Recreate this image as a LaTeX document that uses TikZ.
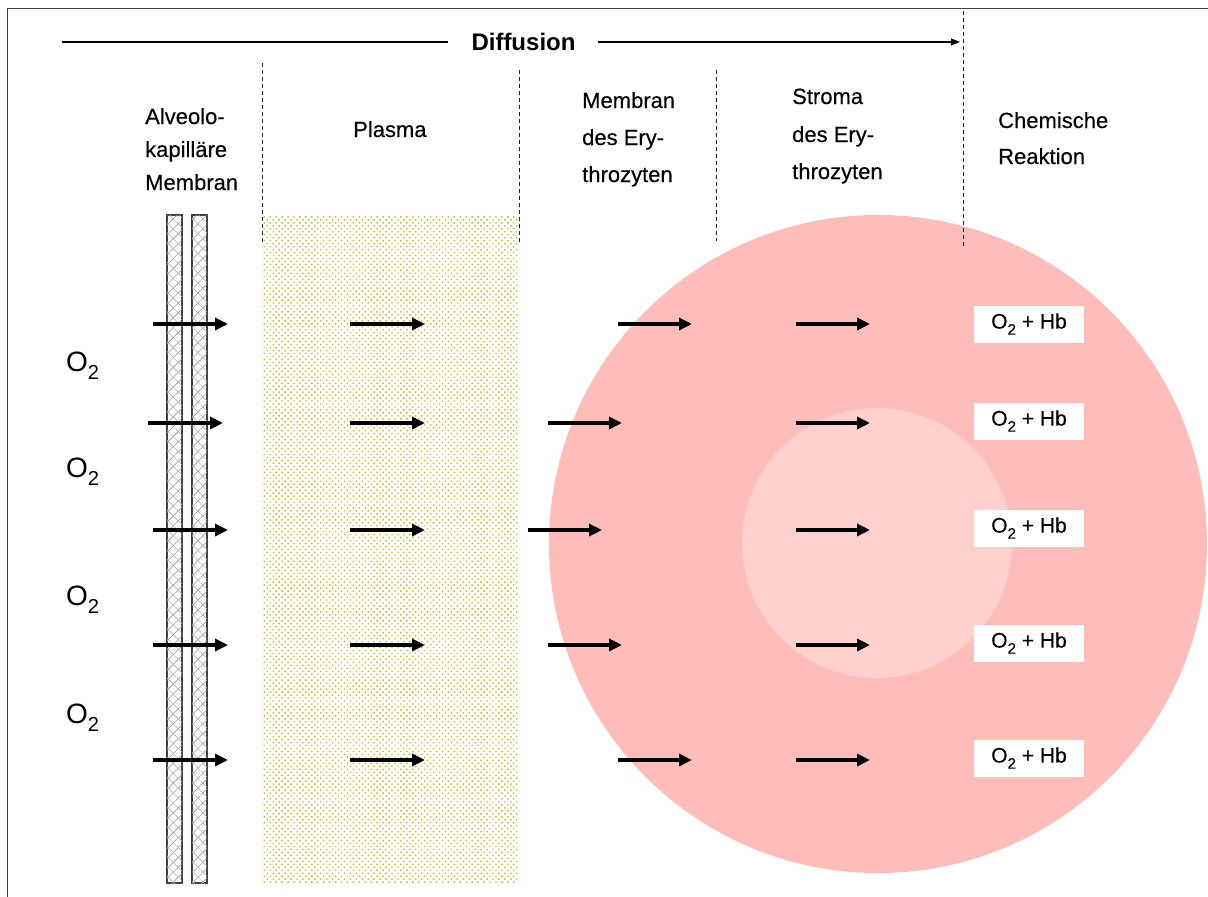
\documentclass[tikz,border=0pt]{standalone}
\usepackage{fontspec}
\usepackage{graphicx}
\setmainfont{Liberation Sans}
\newfontfamily\lblfont[FakeBold=0.25]{Liberation Sans}
\usetikzlibrary{arrows.meta,patterns.meta}
\definecolor{rbc}{HTML}{FFBDBA}
\definecolor{rbcin}{HTML}{FFD0CD}
\definecolor{framecol}{HTML}{404040}
\definecolor{dotcol}{HTML}{C8BE20}
\newcommand\lowsub[1]{\raisebox{-0.29em}{\scalebox{0.72}{#1}}}
\tikzset{
  lbl/.style={anchor=base west,inner sep=0,font=\fontsize{22}{26}\lblfont},
  fatarrow/.style={line width=3.8pt,-{Triangle[length=13pt,width=12pt]}},
  dashline/.style={dash pattern=on 4pt off 3pt,line width=0.9pt,black!85},
  hbbox/.style={fill=white,minimum width=110pt,minimum height=37pt,inner sep=0,font=\fontsize{21}{24}\lblfont},
  oxy/.style={anchor=base west,inner sep=0,font=\fontsize{28}{32}\selectfont},
  membar/.style={draw=framecol,line width=1.2pt,fill=white,minimum width=15pt,minimum height=668pt,inner sep=0,
    postaction={pattern={Lines[angle=45,distance=7pt,line width=0.6pt]},pattern color=gray!80},
    postaction={pattern={Lines[angle=-45,distance=7pt,line width=0.6pt]},pattern color=gray!60}},
}
\begin{document}
\begin{tikzpicture}[x=1pt,y=-1pt]
\useasboundingbox (0,0) rectangle (1208,897);
\fill[white] (0,0) rectangle (1208,897);
% frame
\draw[framecol,line width=1.5pt] (7.5,897) -- (7.5,8.5) -- (1208,8.5);

% red blood cell
\node[circle,fill=rbc,minimum size=658pt,inner sep=0] (rbc) at (878,544) {};
\node[circle,fill=rbcin,minimum size=270pt,inner sep=0] (core) at (877,543) {};

% plasma
\node[minimum width=257pt,minimum height=668pt,inner sep=0,
  pattern={Dots[angle=45,distance=4.2pt,radius=1pt]},pattern color=dotcol] (plasma) at (390.5,549) {};

% membrane bars
\node[membar] (bar1) at (174.5,549) {};
\node[membar] (bar2) at (199.5,549) {};

% dashed separators
\draw[dashline] (262,63) -- (262,243);
\draw[dashline] (519,70) -- (519,243);
\draw[dashline] (716,70) -- (716,241);
\draw[dashline] (963,11) -- (963,249);

% Diffusion header
\node[anchor=base,inner sep=0,font=\fontsize{24}{28}\selectfont\bfseries] (diff) at (523.5,50) {Diffusion};
\coordinate (dl) at (62,42);
\coordinate (dr) at (960,42);
\draw[line width=1.1pt] (dl) -- (448,42);
\draw[line width=1.1pt,-{Triangle[length=9pt,width=7pt]}] (598,42) -- (dr);

% column labels
\node[lbl] (t1a) at (145,124) {Alveolo-};
\node[lbl] (t1b) at (145,157) {kapilläre};
\node[lbl] (t1c) at (145,190) {Membran};
\node[lbl] (t2) at (353,137) {Plasma};
\node[lbl] (t3a) at (582,108) {Membran};
\node[lbl] (t3b) at (582,145) {des Ery-};
\node[lbl] (t3c) at (582,182) {throzyten};
\node[lbl] (t4a) at (792,104) {Stroma};
\node[lbl] (t4b) at (792,142) {des Ery-};
\node[lbl] (t4c) at (792,179) {throzyten};
\node[lbl] (t5a) at (998,128) {Chemische};
\node[lbl] (t5b) at (998,164) {Reaktion};

% O2 labels
\node[oxy] (o1) at (66,371) {O\lowsub{2}};
\node[oxy] (o2) at (66,477) {O\lowsub{2}};
\node[oxy] (o3) at (66,605) {O\lowsub{2}};
\node[oxy] (o4) at (66,723) {O\lowsub{2}};

% arrows and reaction boxes
\foreach \r/\y/\ax/\cx/\by in {1/324/153/618/324, 2/423/148/548/421, 3/530/153/528/528, 4/645/153/548/643, 5/760/153/618/758} {
  \coordinate (a\r s) at (\ax,\y);   \coordinate (a\r e) at (\ax+75,\y);
  \coordinate (b\r s) at (350,\y);   \coordinate (b\r e) at (425,\y);
  \coordinate (c\r s) at (\cx,\y);   \coordinate (c\r e) at (\cx+74,\y);
  \coordinate (d\r s) at (796,\y);   \coordinate (d\r e) at (870,\y);
  \draw[fatarrow] (a\r s) -- (a\r e);
  \draw[fatarrow] (b\r s) -- (b\r e);
  \draw[fatarrow] (c\r s) -- (c\r e);
  \draw[fatarrow] (d\r s) -- (d\r e);
  \node[hbbox] (hb\r) at (1029,\by) {O\lowsub{2} + Hb};
}
\end{tikzpicture}
\end{document}
